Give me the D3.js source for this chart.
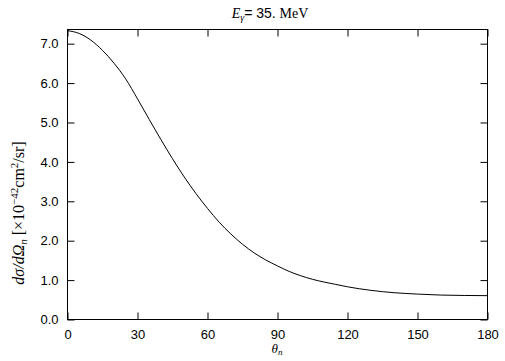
<!DOCTYPE html>
<html>
<head>
<meta charset="utf-8">
<script src="https://cdn.jsdelivr.net/npm/d3@7"></script>
<style>
  body { margin: 0; background: #fff; }
  text { font-family: "Liberation Sans", Arial, sans-serif; }
</style>
</head>
<body>
<script>
// angle theta_n (deg) and cross section values
var angles = [0, 5, 10, 15, 20, 25, 30, 35, 40, 45, 50, 55, 60, 65, 70, 75, 80, 85,
              90, 95, 100, 105, 110, 115, 120, 130, 140, 150, 160, 170, 180];
var sigma = [7.33, 7.26, 7.09, 6.83, 6.50, 6.10, 5.60, 5.08, 4.57, 4.08, 3.62, 3.20, 2.82,
             2.47, 2.17, 1.91, 1.69, 1.51, 1.36, 1.22, 1.11, 1.02, 0.95, 0.89, 0.83,
             0.74, 0.68, 0.645, 0.62, 0.61, 0.605];
var xTicks = [0, 30, 60, 90, 120, 150, 180];
var yTicks = [0, 1, 2, 3, 4, 5, 6, 7];

var width = 505, height = 361;
var plotL = 67, plotR = 487, plotT = 29, plotB = 319;
var tickLen = 7;

var svg = d3.select("body").append("svg")
  .attr("width", width)
  .attr("height", height);

var x = d3.scaleLinear().domain([0, 180]).range([plotL, plotR]);
var y = d3.scaleLinear().domain([0, 7.36]).range([plotB, plotT]);

var g = svg.append("g").attr("transform", "translate(0.5,0.5)");

// frame
g.append("rect")
  .attr("x", plotL).attr("y", plotT)
  .attr("width", plotR - plotL).attr("height", plotB - plotT)
  .attr("fill", "none").attr("stroke", "#000");

// ticks, mirrored on all sides and pointing in
var xAxisB = d3.axisBottom(x).tickValues(xTicks).tickSize(-tickLen).tickPadding(10).tickFormat(d3.format("d"));
var xAxisT = d3.axisTop(x).tickValues(xTicks).tickSize(-tickLen).tickFormat("");
var yAxisL = d3.axisLeft(y).tickValues(yTicks).tickSize(-tickLen).tickPadding(9).tickFormat(d3.format(".1f"));
var yAxisR = d3.axisRight(y).tickValues(yTicks).tickSize(-tickLen).tickFormat("");

function styleAxis(sel) {
  sel.select(".domain").remove();
  sel.selectAll("line").attr("stroke", "#000");
  sel.selectAll("text").attr("fill", "#000").style("font-size", "13px")
    .style("font-family", "'Liberation Sans', Arial, sans-serif");
}

g.append("g").attr("transform", "translate(0," + plotB + ")").call(xAxisB).call(styleAxis);
g.append("g").attr("transform", "translate(0," + plotT + ")").call(xAxisT).call(styleAxis);
g.append("g").attr("transform", "translate(" + plotL + ",0)").call(yAxisL).call(styleAxis);
g.append("g").attr("transform", "translate(" + plotR + ",0)").call(yAxisR).call(styleAxis);

// curve
var line = d3.line()
  .x(function(d, i) { return x(angles[i]); })
  .y(function(d) { return y(d); })
  .curve(d3.curveMonotoneX);

g.append("path")
  .datum(sigma)
  .attr("d", line)
  .attr("fill", "none")
  .attr("stroke", "#000")
  .attr("stroke-width", 1);

// title
var title = svg.append("text")
  .attr("x", 270).attr("y", 18)
  .attr("text-anchor", "middle")
  .style("font-size", "14px");
title.append("tspan").style("font-family", "'Liberation Serif', serif").style("font-style", "italic").text("E");
title.append("tspan").attr("dy", 3).style("font-family", "'Liberation Serif', serif").style("font-style", "italic").style("font-size", "10px").text("γ");
title.append("tspan").attr("dy", -3).text("= 35. ");
title.append("tspan").style("font-family", "'Liberation Serif', serif").text("MeV");

// x label
var xl = svg.append("text")
  .attr("x", 277).attr("y", 353)
  .attr("text-anchor", "middle")
  .style("font-family", "'Liberation Serif', serif")
  .style("font-size", "13px");
xl.append("tspan").style("font-style", "italic").text("θ");
xl.append("tspan").attr("dy", 2).style("font-style", "italic").style("font-size", "9px").text("n");

// y label
var yl = svg.append("text")
  .attr("transform", "translate(24,213) rotate(-90)")
  .attr("text-anchor", "middle")
  .style("font-family", "'Liberation Serif', serif")
  .style("font-size", "16px");
yl.append("tspan").style("font-style", "italic").text("dσ/dΩ");
yl.append("tspan").attr("dy", 3).style("font-style", "italic").style("font-size", "11px").text("n");
yl.append("tspan").attr("dy", -3).text(" [×10");
yl.append("tspan").attr("dy", -6).style("font-size", "11px").text("−42");
yl.append("tspan").attr("dy", 6).text("cm");
yl.append("tspan").attr("dy", -6).style("font-size", "11px").text("2");
yl.append("tspan").attr("dy", 6).text("/sr]");
</script>
</body>
</html>
